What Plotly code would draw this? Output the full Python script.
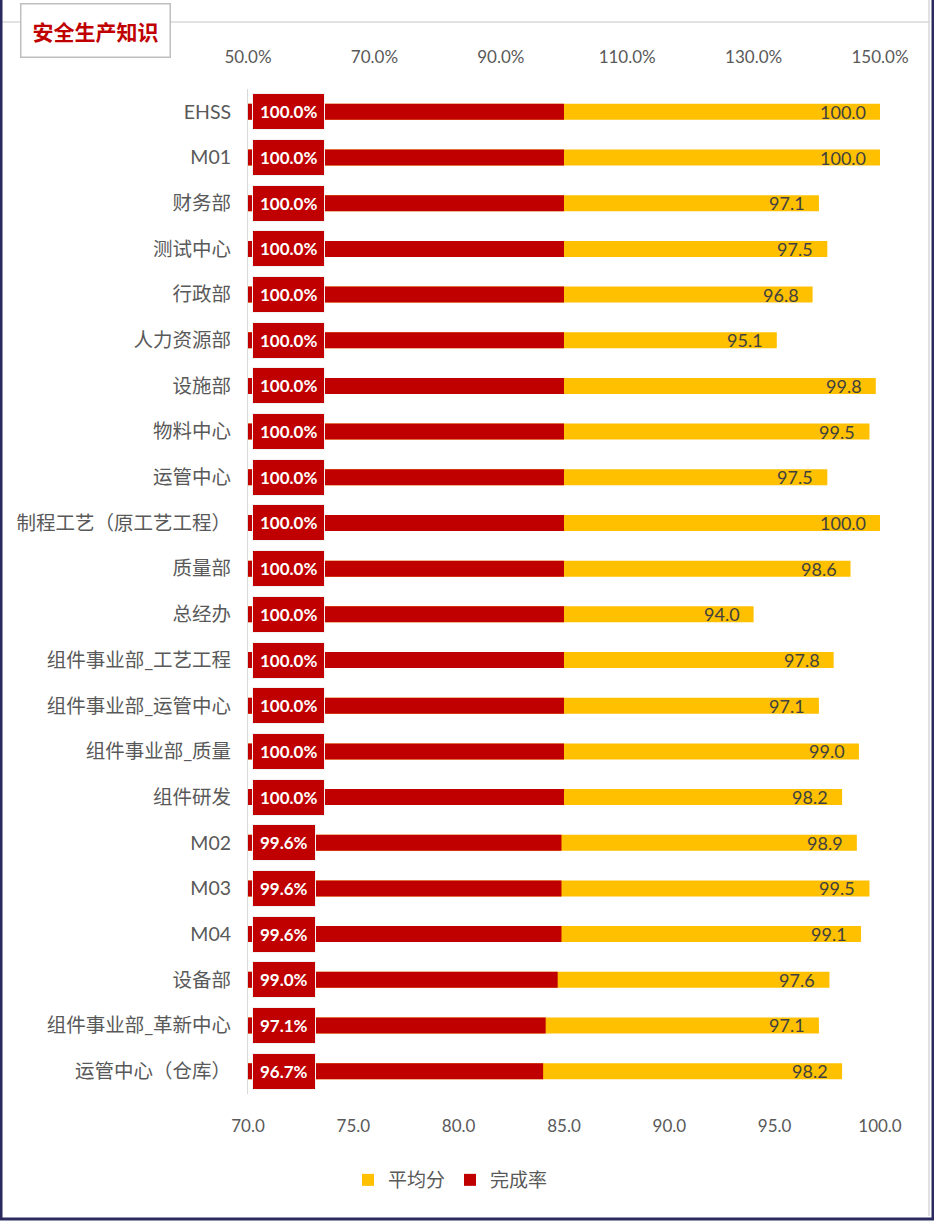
import plotly.graph_objects as go

categories = ["EHSS", "M01", "财务部", "测试中心", "行政部", "人力资源部", "设施部", "物料中心",
              "运管中心", "制程工艺（原工艺工程）", "质量部", "总经办", "组件事业部_工艺工程",
              "组件事业部_运管中心", "组件事业部_质量", "组件研发", "M02", "M03", "M04",
              "设备部", "组件事业部_革新中心", "运管中心（仓库）"]
avg_score = [100.0, 100.0, 97.1, 97.5, 96.8, 95.1, 99.8, 99.5, 97.5, 100.0, 98.6, 94.0,
             97.8, 97.1, 99.0, 98.2, 98.9, 99.5, 99.1, 97.6, 97.1, 98.2]
completion = [100.0] * 16 + [99.6, 99.6, 99.6, 99.0, 97.1, 96.7]
top_ticks = [50, 70, 90, 110, 130, 150]
top_tick_text = ["50.0%", "70.0%", "90.0%", "110.0%", "130.0%", "150.0%"]
bottom_ticks = [70, 75, 80, 85, 90, 95, 100]
bottom_tick_text = ["70.0", "75.0", "80.0", "85.0", "90.0", "95.0", "100.0"]

YELLOW = "#FFC000"
RED = "#C00000"
GRAY = "#595959"
FONT = "Lato, Noto Sans CJK SC, sans-serif"

W, H = 934, 1223
ML, MR, MT, MB = 248, 54, 89, 129
PW, PH = W - ML - MR, H - MT - MB


def px_x(p):
    return (p - ML) / PW


def px_y(p):
    return (H - MB - p) / PH


fig = go.Figure()
fig.add_trace(go.Bar(
    y=categories, x=avg_score, base=0, orientation="h", name="平均分",
    marker=dict(color=YELLOW, line=dict(width=0)), width=0.35,
    xaxis="x", yaxis="y", hoverinfo="x+y",
))
fig.add_trace(go.Bar(
    y=categories, x=completion, orientation="h", name="完成率",
    marker=dict(color=RED, line=dict(width=0)), width=0.35,
    xaxis="x2", yaxis="y", hoverinfo="x+y",
))

annotations = []
for c, v in zip(categories, avg_score):
    annotations.append(dict(
        x=v, y=c, xref="x", yref="y", text=f"{v:.1f}", showarrow=False,
        xanchor="right", yanchor="middle", xshift=-12,
        font=dict(family=FONT, size=18, color="#404040"),
    ))
for c, v in zip(categories, completion):
    annotations.append(dict(
        x=50, y=c, xref="x2", yref="y", text=f"<b>{v:.1f}%</b>", showarrow=False,
        xanchor="left", yanchor="middle", xshift=4,
        bgcolor=RED, bordercolor="#F2F2F2", borderwidth=1, borderpad=7,
        font=dict(family=FONT, size=17, color="white"),
    ))
annotations.append(dict(
    x=px_x(95), y=px_y(30), xref="paper", yref="paper", text="<b>安全生产知识</b>",
    showarrow=False, xanchor="center", yanchor="middle",
    bgcolor="white", bordercolor="#BFBFBF", borderwidth=1.5, borderpad=11,
    font=dict(family="Noto Sans CJK SC", size=21, color=RED),
))

shapes = [
    dict(type="line", xref="paper", yref="paper", x0=px_x(0), x1=px_x(930),
         y0=px_y(22), y1=px_y(22), line=dict(color="#D9D9D9", width=1.5), layer="below"),
    dict(type="line", xref="paper", yref="paper", x0=px_x(929), x1=px_x(929),
         y0=px_y(0), y1=px_y(1216), line=dict(color="#D9D9D9", width=1.5), layer="below"),
    dict(type="rect", xref="paper", yref="paper", x0=px_x(1), x1=px_x(933),
         y0=px_y(-2), y1=px_y(1219), line=dict(color="#2B2A5E", width=3), layer="below"),
]

fig.update_layout(
    width=W, height=H,
    margin=dict(l=ML, r=MR, t=MT, b=MB),
    paper_bgcolor="white", plot_bgcolor="white",
    barmode="overlay",
    font=dict(family=FONT, size=16, color=GRAY),
    xaxis=dict(range=[70, 100], tickvals=bottom_ticks, ticktext=bottom_tick_text,
               showgrid=False, zeroline=False, showline=False, ticks="",
               ticklabelstandoff=20, tickfont=dict(size=17, color=GRAY)),
    xaxis2=dict(range=[50, 150], tickvals=top_ticks, ticktext=top_tick_text,
                overlaying="x", side="top", showgrid=False, zeroline=False,
                showline=False, ticks="", ticklabelstandoff=22,
                tickfont=dict(size=17, color=GRAY)),
    yaxis=dict(autorange="reversed", showgrid=False, zeroline=False,
               showline=True, linecolor="#D9D9D9", linewidth=1, ticks="",
               ticklabelstandoff=12, tickfont=dict(size=19.5, color=GRAY)),
    legend=dict(orientation="h", x=px_x(348), y=px_y(1180), xanchor="left", yanchor="middle",
                font=dict(size=19, color=GRAY), traceorder="normal", itemwidth=30),
    annotations=annotations, shapes=shapes,
    showlegend=True,
)

fig.write_html("out.html", config={"displayModeBar": False},
               post_script="document.body.style.margin='0';")
